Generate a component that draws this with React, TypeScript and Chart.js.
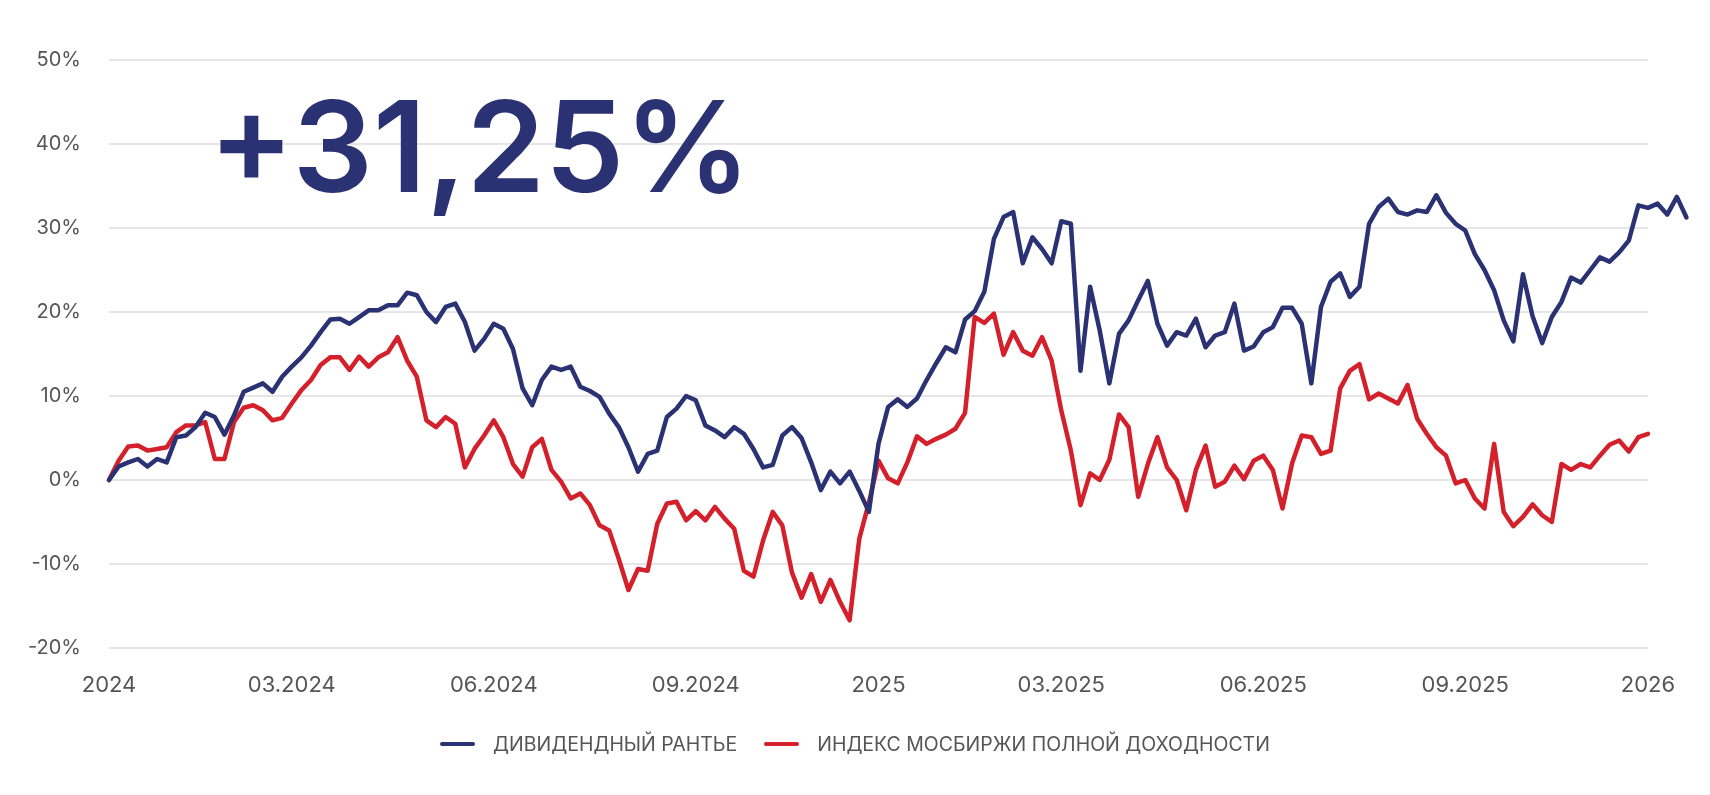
import React, { useEffect, useRef } from "react";
import { Chart, registerables } from "chart.js";

Chart.register(...registerables);

// x axis: sample index, labels sit on these indexes
const xTickLabels = ["2024", "03.2024", "06.2024", "09.2024", "2025", "03.2025", "06.2025", "09.2025", "2026"];
const xTickIndex = [0, 19, 40, 61, 80, 99, 120, 141, 160];

// ДИВИДЕНДНЫЙ РАНТЬЕ, % since start
const rentier = [
  0, 1.6, 2.1, 2.5, 1.6, 2.5, 2.1, 5.1, 5.3, 6.3,
  8.0, 7.5, 5.4, 7.7, 10.5, 11.0, 11.5, 10.5, 12.3, 13.5,
  14.6, 16.0, 17.6, 19.1, 19.2, 18.6, 19.4, 20.2, 20.2, 20.8,
  20.8, 22.3, 22.0, 20.0, 18.8, 20.6, 21.0, 18.8, 15.4, 16.8,
  18.6, 18.0, 15.6, 10.9, 8.9, 11.9, 13.5, 13.1, 13.5, 11.1,
  10.6, 9.9, 7.9, 6.3, 3.9, 1.0, 3.1, 3.5, 7.5, 8.5,
  10.0, 9.5, 6.5, 5.9, 5.1, 6.3, 5.5, 3.7, 1.5, 1.8,
  5.3, 6.3, 5.0, 2.1, -1.2, 1.0, -0.4, 1.0, -1.3, -3.8,
  4.3, 8.7, 9.6, 8.7, 9.7, 11.9, 13.9, 15.8, 15.2, 19.1,
  20.1, 22.4, 28.7, 31.3, 31.9, 25.8, 28.9, 27.5, 25.8, 30.8,
  30.5, 13.0, 23.0, 17.8, 11.5, 17.4, 19.0, 21.4, 23.7, 18.6,
  16.0, 17.6, 17.2, 19.2, 15.8, 17.2, 17.6, 21.0, 15.4, 15.9,
  17.6, 18.2, 20.5, 20.5, 18.6, 11.5, 20.6, 23.6, 24.6, 21.8,
  23.0, 30.5, 32.5, 33.5, 31.9, 31.6, 32.1, 31.9, 33.9, 31.8,
  30.5, 29.7, 26.9, 25.0, 22.6, 19.0, 16.5, 24.5, 19.5, 16.3,
  19.4, 21.2, 24.1, 23.5, 25.0, 26.5, 26.0, 27.1, 28.5, 32.7,
  32.4, 32.9, 31.6, 33.7, 31.25,
];

// ИНДЕКС МОСБИРЖИ ПОЛНОЙ ДОХОДНОСТИ, % since start
const moexTotalReturn = [
  0, 2.3, 4.0, 4.1, 3.5, 3.7, 3.9, 5.7, 6.5, 6.5,
  6.9, 2.5, 2.5, 6.9, 8.6, 8.9, 8.3, 7.1, 7.4, 9.1,
  10.7, 11.9, 13.7, 14.6, 14.6, 13.1, 14.7, 13.5, 14.6, 15.2,
  17.0, 14.2, 12.3, 7.1, 6.3, 7.5, 6.7, 1.5, 3.7, 5.3,
  7.1, 5.1, 1.9, 0.4, 3.9, 4.9, 1.2, -0.2, -2.2, -1.6,
  -3.0, -5.4, -6.0, -9.4, -13.1, -10.6, -10.8, -5.2, -2.8, -2.6,
  -4.8, -3.7, -4.8, -3.2, -4.6, -5.8, -10.8, -11.5, -7.2, -3.8,
  -5.4, -11.0, -14.0, -11.2, -14.5, -11.9, -14.5, -16.7, -7.0, -2.7,
  2.3, 0.2, -0.4, 2.1, 5.2, 4.3, 4.9, 5.4, 6.1, 8.0,
  19.4, 18.7, 19.8, 14.9, 17.6, 15.4, 14.8, 17.0, 14.2, 8.3,
  3.5, -3.0, 0.8, 0.0, 2.4, 7.8, 6.3, -2.0, 1.9, 5.1,
  1.5, 0.0, -3.6, 1.2, 4.1, -0.8, -0.2, 1.7, 0.1, 2.3,
  2.9, 1.2, -3.4, 2.0, 5.3, 5.1, 3.1, 3.5, 10.9, 13.0,
  13.8, 9.6, 10.3, 9.7, 9.1, 11.3, 7.3, 5.5, 3.9, 2.9,
  -0.4, 0.0, -2.2, -3.4, 4.3, -3.8, -5.5, -4.4, -2.9, -4.2,
  -5.0, 1.9, 1.2, 1.9, 1.5, 2.9, 4.2, 4.7, 3.4, 5.1,
  5.5,
];

const seriesNames = ["ДИВИДЕНДНЫЙ РАНТЬЕ", "ИНДЕКС МОСБИРЖИ ПОЛНОЙ ДОХОДНОСТИ"];
const headline = "+31,25%";

const NAVY = "#2b3274";
const RED = "#d4202a";
const LABEL = "#555555";
const FONT = "Inter, 'Noto Sans', sans-serif";

export default function App(): React.ReactElement {
  const canvasRef = useRef<HTMLCanvasElement | null>(null);

  useEffect(() => {
    if (!canvasRef.current) return;
    const xLast = xTickIndex[xTickIndex.length - 1];
    const chart = new Chart(canvasRef.current, {
      type: "line",
      data: {
        datasets: [
          {
            label: seriesNames[0],
            data: rentier.map((y, x) => ({ x, y })),
            borderColor: NAVY,
            clip: false,
          },
          {
            label: seriesNames[1],
            data: moexTotalReturn.map((y, x) => ({ x, y })),
            borderColor: RED,
            clip: false,
          },
        ],
      },
      options: {
        animation: false,
        responsive: true,
        maintainAspectRatio: false,
        layout: { padding: { left: 0, right: 62, top: 60, bottom: 97 } },
        plugins: { legend: { display: false }, tooltip: { enabled: false } },
        elements: {
          point: { radius: 0 },
          line: { tension: 0, borderWidth: 4.5, borderJoinStyle: "round", borderCapStyle: "round" },
        },
        scales: {
          x: {
            type: "linear",
            bounds: "data",
            // the range ends at the last label; the rentier line runs a little past it
            afterDataLimits: (s) => {
              s.min = 0;
              s.max = xLast;
            },
            grid: { display: false, drawTicks: false },
            border: { display: false },
            afterBuildTicks: (s) => {
              s.ticks = xTickIndex.map((value) => ({ value }));
            },
            afterFit: (s) => {
              s.height = 50;
            },
            ticks: {
              autoSkip: false,
              maxRotation: 0,
              padding: 24,
              color: LABEL,
              font: { family: FONT, size: 22 },
              callback: (_v, i) => xTickLabels[i] ?? "",
            },
          },
          y: {
            min: -20,
            max: 50,
            grid: { color: "#e6e6e6", lineWidth: 2, drawTicks: false },
            border: { display: false },
            afterFit: (s) => {
              s.width = 109;
            },
            ticks: {
              stepSize: 10,
              padding: 28,
              color: LABEL,
              font: { family: FONT, size: 20 },
              callback: (v) => `${v}%`,
            },
          },
        },
      },
    });
    return () => chart.destroy();
  }, []);

  return (
    <div style={{ position: "fixed", left: 0, top: 0, width: 1710, height: 795, background: "#fff", fontFamily: FONT }}>
      <canvas ref={canvasRef} style={{ position: "absolute", left: 0, top: 0, width: 1710, height: 795 }} />
      <div
        style={{
          position: "absolute",
          left: 209,
          top: 83,
          fontSize: 126,
          fontWeight: 600,
          lineHeight: 1,
          color: NAVY,
          whiteSpace: "nowrap",
        }}
      >
        {headline}
      </div>
      <div
        style={{
          position: "absolute",
          left: 0,
          top: 731,
          width: 1710,
          height: 26,
          display: "flex",
          justifyContent: "center",
          alignItems: "center",
          fontSize: 19.5,
          color: LABEL,
        }}
      >
        {seriesNames.map((name, i) => (
          <div key={name} style={{ display: "flex", alignItems: "center", marginLeft: i ? 27 : 0 }}>
            <span
              style={{
                display: "inline-block",
                width: 35,
                height: 4,
                borderRadius: 2,
                background: i ? RED : NAVY,
                marginRight: 18,
              }}
            />
            <span style={{ whiteSpace: "nowrap" }}>{name}</span>
          </div>
        ))}
      </div>
    </div>
  );
}
